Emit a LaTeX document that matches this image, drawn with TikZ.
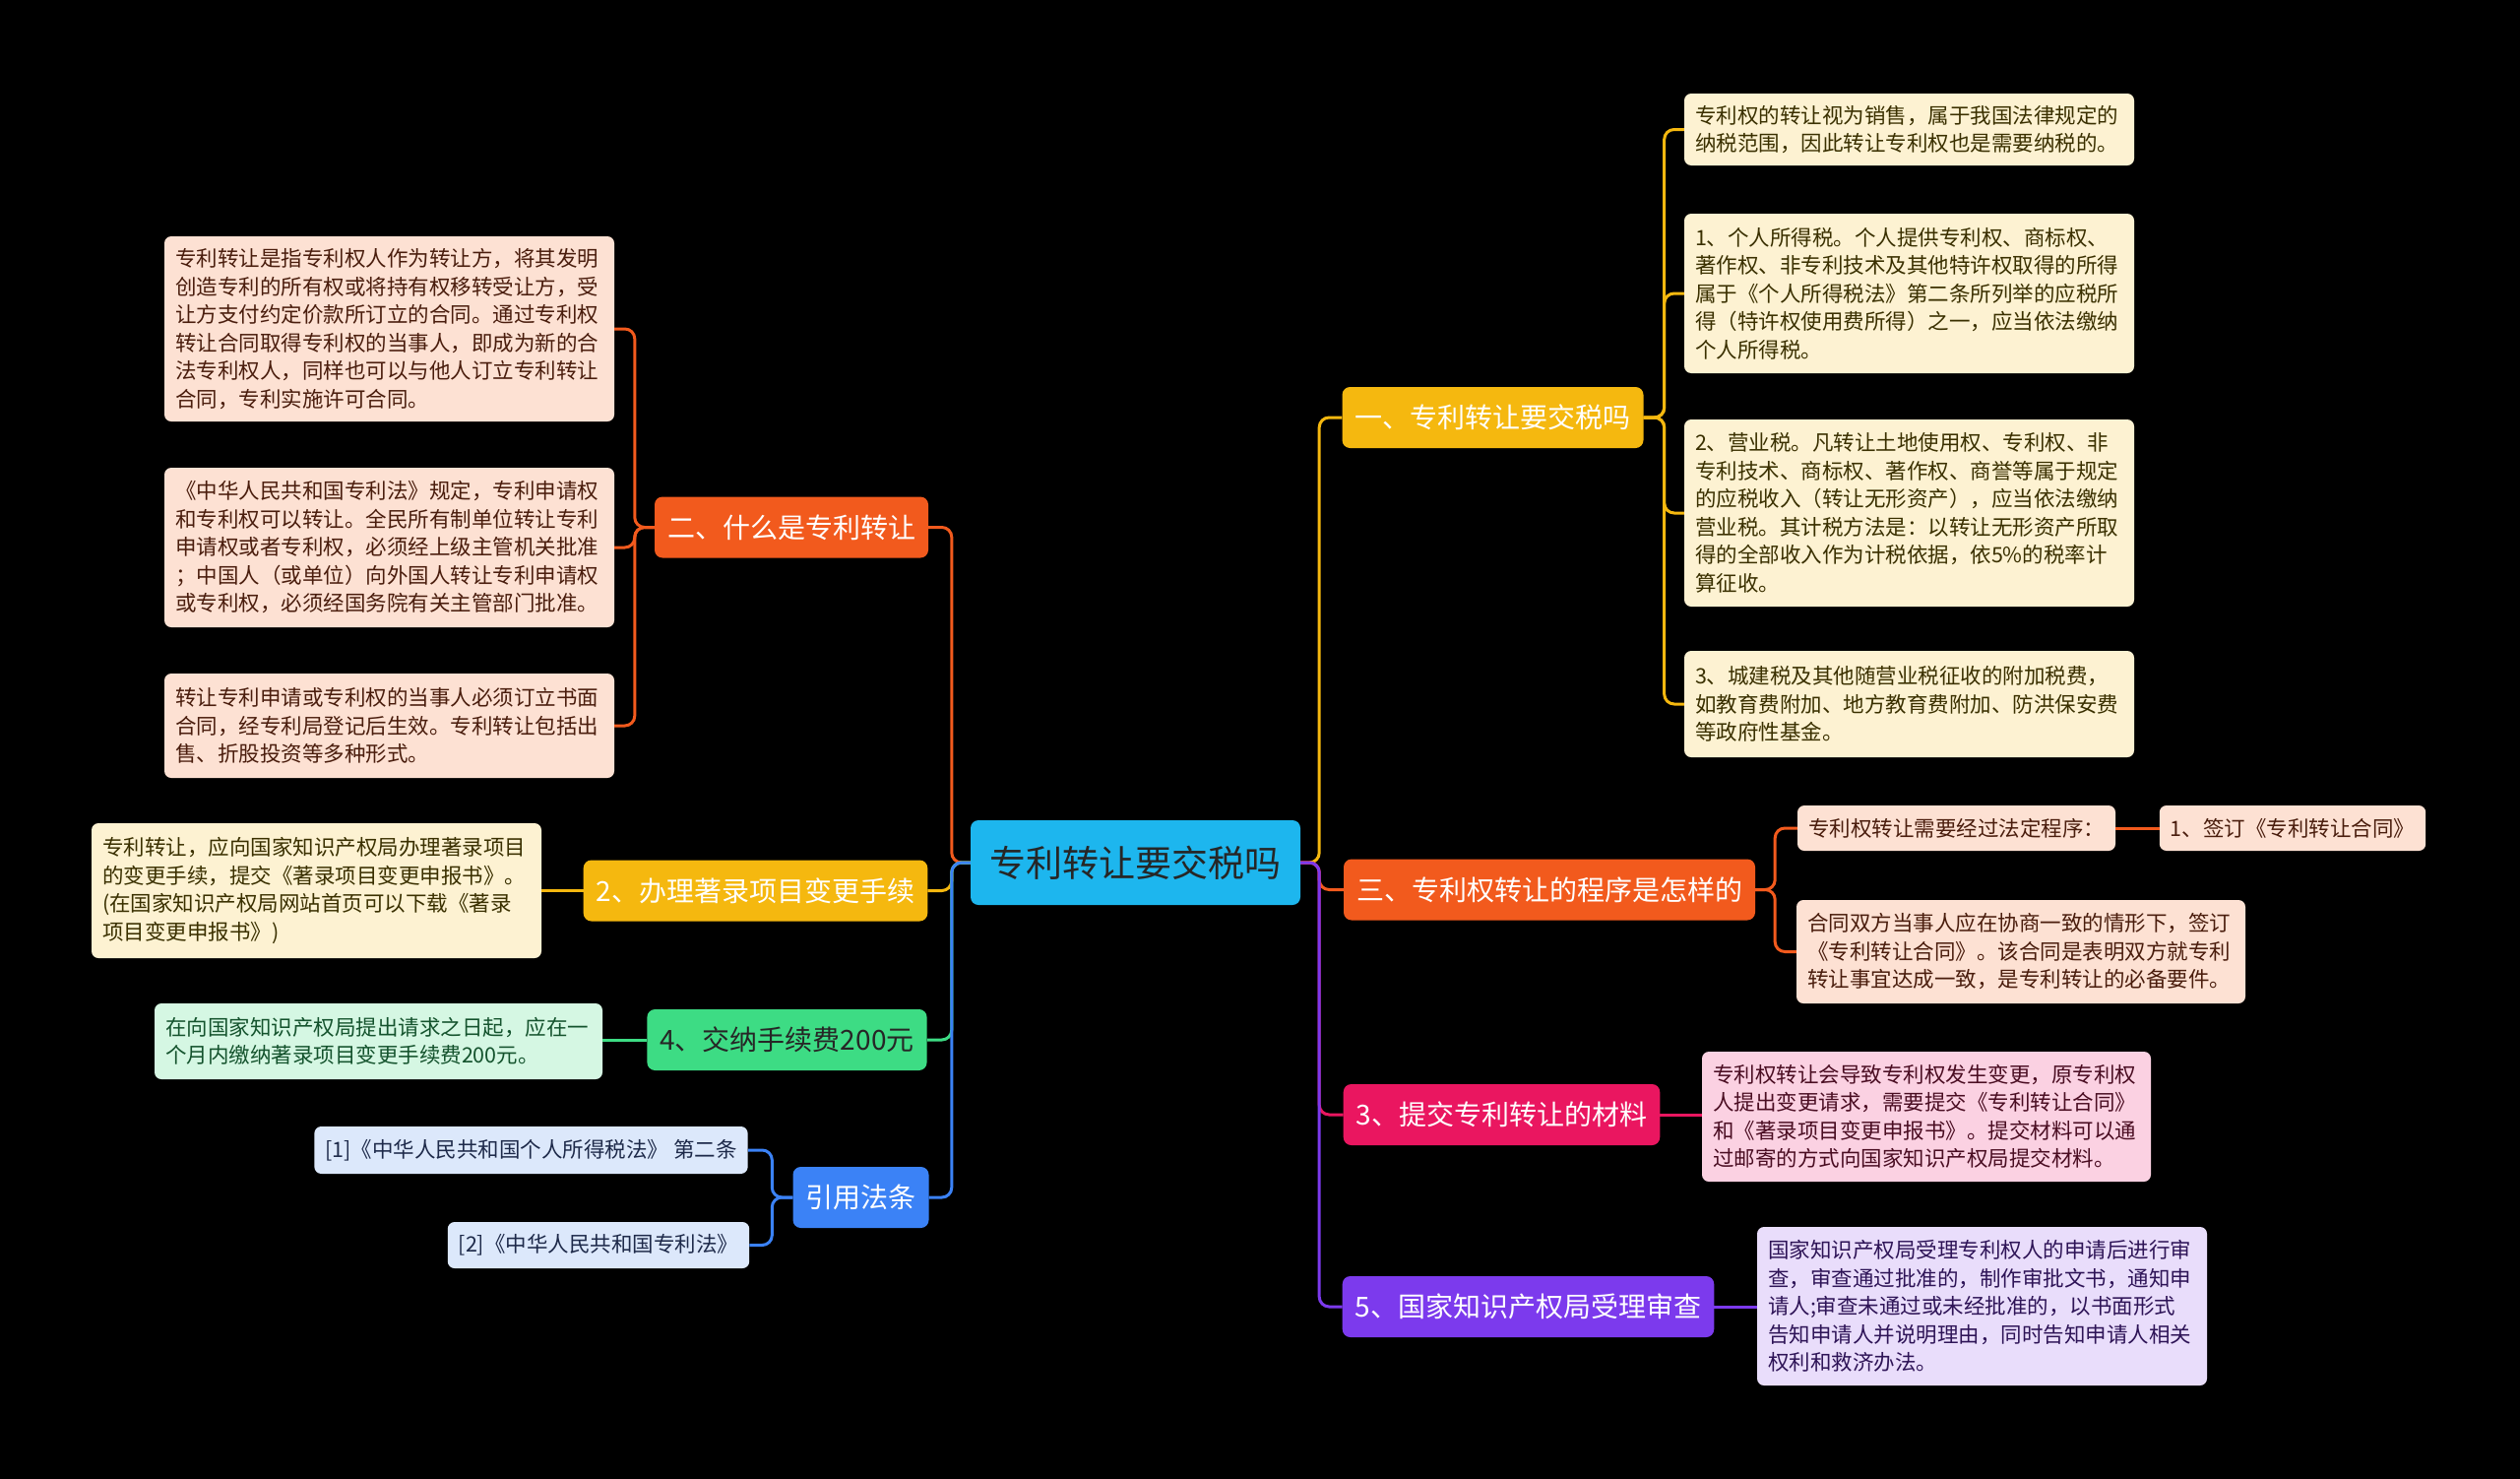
\documentclass[tikz,border=0pt]{standalone}
\usepackage{fontspec}
\setmainfont{Noto Sans CJK SC}
\definecolor{rootCyan}{HTML}{1DB6EE}
\definecolor{brYellow}{HTML}{F5B80F}
\definecolor{lfYellow}{HTML}{FDF2D2}
\definecolor{txYellow}{HTML}{3A3000}
\definecolor{brOrange}{HTML}{F25A1D}
\definecolor{lfOrange}{HTML}{FDE1D3}
\definecolor{txOrange}{HTML}{4A1D0D}
\definecolor{brPink}{HTML}{EA1660}
\definecolor{lfPink}{HTML}{FBD1E2}
\definecolor{txPink}{HTML}{4A0D22}
\definecolor{brPurple}{HTML}{7C3AED}
\definecolor{lfPurple}{HTML}{E9DDFB}
\definecolor{txPurple}{HTML}{2E1457}
\definecolor{brGreen}{HTML}{3DDC84}
\definecolor{lfGreen}{HTML}{D5F7E3}
\definecolor{txGreen}{HTML}{14532D}
\definecolor{brBlue}{HTML}{3B82F6}
\definecolor{lfBlue}{HTML}{DCE8FB}
\definecolor{txBlue}{HTML}{1E2A4A}
\begin{document}
\begin{tikzpicture}[
  x=1pt,
  y=-1pt,
  font=\fontsize{21.5}{28.5}\selectfont,
  rootbox/.style={fill=rootCyan, text=black!85, rounded corners=8pt,
    minimum width=335pt, minimum height=86pt, font=\fontsize{37}{44}\selectfont},
  branchbox/.style={fill=#1, text=white, rounded corners=8pt, inner xsep=13pt,
    minimum height=62pt, font=\fontsize{28}{34}\selectfont},
  leafbox/.style 2 args={fill=#1, text=#2, rounded corners=7pt, inner xsep=11pt,
    inner ysep=0pt, align=left},
  link/.style={draw=#1, line width=3pt, rounded corners=10pt}
]
\fill[black] (0,0) rectangle (2560,1502);
\useasboundingbox (0,0) rectangle (2560,1502);

\node[rootbox] (root) at (1153.5,876) {专利转让要交税吗};

% right side
\node[branchbox=brYellow] (b1) at (1516.5,424) {一、专利转让要交税吗};
\node[branchbox=brOrange] (b3) at (1574,903.5) {三、专利权转让的程序是怎样的};
\node[branchbox=brPink] (b3m) at (1525.5,1132) {3、提交专利转让的材料};
\node[branchbox=brPurple] (b5) at (1552.5,1327) {5、国家知识产权局受理审查};

% left side
\node[branchbox=brOrange] (b2) at (804,535.5) {二、什么是专利转让};
\node[branchbox=brYellow] (b2m) at (767.5,904.5) {2、办理著录项目变更手续};
\node[branchbox=brGreen, text=black!85] (b4) at (799.5,1056) {4、交纳手续费200元};
\node[branchbox=brBlue] (bref) at (874.5,1216) {引用法条};

% taxes
\node[leafbox={lfYellow}{txYellow}, text width=435pt, minimum height=73pt] (ra) at (1939.5,131.5)
  {专利权的转让视为销售，属于我国法律规定的\\纳税范围，因此转让专利权也是需要纳税的。};
\node[leafbox={lfYellow}{txYellow}, text width=435pt, minimum height=162pt] (rb) at (1939.5,298)
  {1、个人所得税。个人提供专利权、商标权、\\著作权、非专利技术及其他特许权取得的所得\\属于《个人所得税法》第二条所列举的应税所\\得（特许权使用费所得）之一，应当依法缴纳\\个人所得税。};
\node[leafbox={lfYellow}{txYellow}, text width=435pt, minimum height=190pt] (rc) at (1939.5,521)
  {2、营业税。凡转让土地使用权、专利权、非\\专利技术、商标权、著作权、商誉等属于规定\\的应税收入（转让无形资产），应当依法缴纳\\营业税。其计税方法是：以转让无形资产所取\\得的全部收入作为计税依据，依5\%的税率计\\算征收。};
\node[leafbox={lfYellow}{txYellow}, text width=435pt, minimum height=108pt] (rd) at (1939.5,715)
  {3、城建税及其他随营业税征收的附加税费，\\如教育费附加、地方教育费附加、防洪保安费\\等政府性基金。};

% procedure
\node[leafbox={lfOrange}{txOrange}, minimum height=46pt] (rs1) at (1987.5,841) {专利权转让需要经过法定程序：};
\node[leafbox={lfOrange}{txOrange}, minimum height=46pt] (rs2) at (2329,841) {1、签订《专利转让合同》};
\node[leafbox={lfOrange}{txOrange}, text width=434pt, minimum height=105pt] (rs3) at (2053,966.5)
  {合同双方当事人应在协商一致的情形下，签订\\《专利转让合同》。该合同是表明双方就专利\\转让事宜达成一致，是专利转让的必备要件。};

% materials
\node[leafbox={lfPink}{txPink}, text width=434pt, minimum height=132pt] (rm) at (1957,1134)
  {专利权转让会导致专利权发生变更，原专利权\\人提出变更请求，需要提交《专利转让合同》\\和《著录项目变更申报书》。提交材料可以通\\过邮寄的方式向国家知识产权局提交材料。};

% review
\node[leafbox={lfPurple}{txPurple}, text width=435pt, minimum height=161pt] (rp) at (2013.5,1326.5)
  {国家知识产权局受理专利权人的申请后进行审\\查，审查通过批准的，制作审批文书，通知申\\请人;审查未通过或未经批准的，以书面形式\\告知申请人并说明理由，同时告知申请人相关\\权利和救济办法。};

% what is it
\node[leafbox={lfOrange}{txOrange}, text width=435pt, minimum height=188pt] (la) at (395.5,334)
  {专利转让是指专利权人作为转让方，将其发明\\创造专利的所有权或将持有权移转受让方，受\\让方支付约定价款所订立的合同。通过专利权\\转让合同取得专利权的当事人，即成为新的合\\法专利权人，同样也可以与他人订立专利转让\\合同，专利实施许可合同。};
\node[leafbox={lfOrange}{txOrange}, text width=435pt, minimum height=162pt] (lb) at (395.5,556)
  {《中华人民共和国专利法》规定，专利申请权\\和专利权可以转让。全民所有制单位转让专利\\申请权或者专利权，必须经上级主管机关批准\\；中国人（或单位）向外国人转让专利申请权\\或专利权，必须经国务院有关主管部门批准。};
\node[leafbox={lfOrange}{txOrange}, text width=435pt, minimum height=106pt] (lc) at (395.5,737)
  {转让专利申请或专利权的当事人必须订立书面\\合同，经专利局登记后生效。专利转让包括出\\售、折股投资等多种形式。};

% record change, fee, laws
\node[leafbox={lfYellow}{txYellow}, text width=435pt, minimum height=137pt] (ld) at (321.5,904.5)
  {专利转让，应向国家知识产权局办理著录项目\\的变更手续，提交《著录项目变更申报书》。\\(在国家知识产权局网站首页可以下载《著录\\项目变更申报书》)};
\node[leafbox={lfGreen}{txGreen}, text width=433pt, minimum height=77pt] (le) at (384.5,1057.5)
  {在向国家知识产权局提出请求之日起，应在一\\个月内缴纳著录项目变更手续费200元。};
\node[leafbox={lfBlue}{txBlue}, minimum height=48pt] (lf) at (539.5,1168) {[1]《中华人民共和国个人所得税法》 第二条};
\node[leafbox={lfBlue}{txBlue}, minimum height=47pt] (lg) at (608,1264.5) {[2]《中华人民共和国专利法》};

% links from root
\draw[link=brYellow] (root.east) -- ++(19,0) |- (b1.west);
\draw[link=brOrange] (root.east) -- ++(19,0) |- (b3.west);
\draw[link=brPink] (root.east) -- ++(19,0) |- (b3m.west);
\draw[link=brPurple] (root.east) -- ++(19,0) |- (b5.west);
\draw[link=brOrange] (root.west) -- ++(-19,0) |- (b2.east);
\draw[link=brYellow] (root.west) -- ++(-19,0) |- (b2m.east);
\draw[link=brGreen] (root.west) -- ++(-19,0) |- (b4.east);
\draw[link=brBlue] (root.west) -- ++(-19,0) |- (bref.east);

% links to leaves
\foreach \leaf in {ra,rb,rc,rd}
  \draw[link=brYellow] (b1.east) -- ++(21,0) |- (\leaf.west);
\foreach \leaf in {rs1,rs3}
  \draw[link=brOrange] (b3.east) -- ++(20,0) |- (\leaf.west);
\draw[link=brOrange] (rs1.east) -- (rs2.west);
\draw[link=brPink] (b3m.east) -- (b3m.east -| rm.west);
\draw[link=brPurple] (b5.east) -- (b5.east -| rp.west);
\foreach \leaf in {la,lb,lc}
  \draw[link=brOrange] (b2.west) -- ++(-20,0) |- (\leaf.east);
\draw[link=brYellow] (b2m.west) -- (b2m.west -| ld.east);
\draw[link=brGreen] (b4.west) -- (b4.west -| le.east);
\foreach \leaf in {lf,lg}
  \draw[link=brBlue] (bref.west) -- ++(-21,0) |- (\leaf.east);
\end{tikzpicture}
\end{document}
